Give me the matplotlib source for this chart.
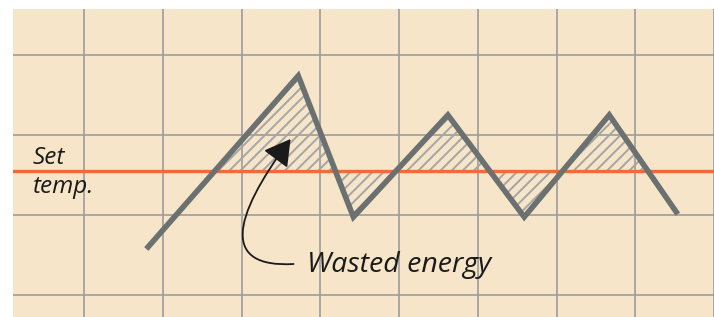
import numpy as np
import matplotlib
matplotlib.use('Agg')
import matplotlib.pyplot as plt
from matplotlib import font_manager
from matplotlib.patches import FancyArrowPatch
from matplotlib.path import Path

# Dữ liệu: đường nhiệt độ dạng răng cưa (đơn vị = ô lưới)
time_pts = [0.79, 2.72, 3.42, 4.62, 5.59, 6.67, 7.54]
temp_pts = [0.575, 2.74, 0.975, 2.25, 0.975, 2.25, 1.01]
set_temp = 1.546

grid_x = [0, 1, 2, 3, 4, 5, 6, 7, 8]
grid_y = [0, 1, 2, 3]

label_set = 'Set\ntemp.'
label_waste = 'Wasted energy'

# Chọn font nghiêng có sẵn
italic_family = 'DejaVu Sans'
names = {f.name for f in font_manager.fontManager.ttflist if f.style == 'italic'}
for fam in ['Open Sans', 'Noto Sans', 'Lato', 'Roboto', 'DejaVu Sans']:
    if fam in names:
        italic_family = fam
        break

plt.rcParams['hatch.linewidth'] = 1.4

fig = plt.figure(figsize=(7.14, 3.17), dpi=100)
ax = fig.add_axes([13 / 714, 0, 701 / 714, 308 / 317])
ax.set_facecolor('#f6e5c8')
ax.set_xlim(-0.903, 7.99)
ax.set_ylim(-0.275, 3.575)

ax.set_xticks(grid_x)
ax.set_yticks(grid_y)
ax.tick_params(length=0, labelbottom=False, labelleft=False)
ax.grid(True, color='#9c9c9c', linewidth=1.2)
ax.set_axisbelow(True)
for s in ax.spines.values():
    s.set_visible(False)

# Vùng năng lượng lãng phí (chỉ giữa đỉnh đầu và đỉnh cuối)
t = np.array(time_pts)
y = np.array(temp_pts)
above = y >= set_temp
below = (y <= set_temp) & (t > t[1]) & (t < t[-2])
for mask in (above, below):
    ax.fill_between(t, y, set_temp, where=mask, interpolate=True,
                    facecolor='none', edgecolor='#a3a6a7', hatch='///',
                    linewidth=0, zorder=2)

ax.axhline(set_temp, color='#f06a3c', linewidth=2.4, zorder=3)
ax.plot(time_pts, temp_pts, color='#6b7070', linewidth=4,
        solid_joinstyle='miter', solid_capstyle='butt', zorder=4)

# Mũi tên cong
def px(xp, yp):
    return ((xp - 84) / 78.57, (295 - yp) / 80)

verts = [px(293, 264), px(222, 268), px(230, 220), px(290, 139)]
codes = [Path.MOVETO, Path.CURVE4, Path.CURVE4, Path.CURVE4]
arrow = FancyArrowPatch(path=Path(verts, codes),
                        arrowstyle='-|>,head_length=0.8,head_width=0.46',
                        mutation_scale=20, color='#1a1a1a', linewidth=1.3,
                        zorder=5)
ax.add_patch(arrow)

ax.text(*px(306, 272), label_waste, fontsize=20.5, style='italic',
        family=italic_family, color='#1a1a1a', ha='left', va='baseline')
ax.text(*px(33, 193), label_set, fontsize=17.5, style='italic',
        family=italic_family, color='#1a1a1a', ha='left', va='baseline',
        linespacing=1.3)

fig.savefig('out.png', dpi=100)
